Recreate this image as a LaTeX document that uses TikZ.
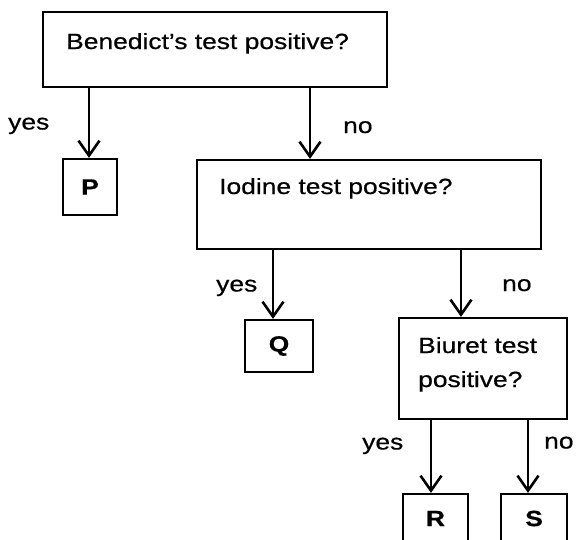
\documentclass[tikz,border=0pt]{standalone}
\usepackage{fontspec}
\setmainfont{Liberation Sans}[FakeStretch=1.2, FakeBold=0.6]
\usetikzlibrary{arrows.meta}

\begin{document}
\begin{tikzpicture}[x=1pt, y=-1pt, >={Straight Barb[length=15pt,width=21pt]},
	box/.style={draw, line width=2.2pt, inner sep=0pt},
	letterbox/.style={box, font=\fontsize{22}{26}\selectfont\bfseries},
	lbl/.style={inner sep=0pt, anchor=base west, font=\fontsize{22}{26}\selectfont},
	arr/.style={->, line width=2.6pt}]
	\useasboundingbox (0,0) rectangle (576,539);
	% questions
	\node [box, minimum width=344pt, minimum height=75pt] (bened) at (215,49.5) {};
	\node [lbl] (benedtxt) at (66,49) {Benedict's test positive?};
	\node [box, minimum width=344pt, minimum height=89pt] (iodine) at (369,204.5) {};
	\node [lbl] (iodinetxt) at (219,194) {Iodine test positive?};
	\node [box, minimum width=168pt, minimum height=101pt] (biuret) at (483,368.5) {};
	\node [lbl] (biurettxt) at (418,353) {Biuret test};
	\node [lbl] (biurettxtb) at (418,387) {positive?};
	% answers
	\node [letterbox, minimum width=54pt, minimum height=56pt] (pbox) at (90,187) {P};
	\node [letterbox, minimum width=68pt, minimum height=52pt] (qbox) at (279,346) {Q};
	\node [letterbox, minimum width=65pt, minimum height=49pt] (rbox) at (435.5,518.5) {R};
	\node [letterbox, minimum width=66pt, minimum height=49pt] (sbox) at (534,518.5) {S};
	% branches
	\draw [arr] (89,0 |- bened.south) -- (89,0 |- pbox.north);
	\draw [arr] (310,0 |- bened.south) -- (310,0 |- iodine.north);
	\draw [arr] (273,0 |- iodine.south) -- (273,0 |- qbox.north);
	\draw [arr] (461,0 |- iodine.south) -- (461,0 |- biuret.north);
	\draw [arr] (431,0 |- biuret.south) -- (431,0 |- rbox.north);
	\draw [arr] (528,0 |- biuret.south) -- (528,0 |- sbox.north);
	\node [lbl] (yesp) at (8,129.5) {yes};
	\node [lbl] (noi) at (343,133) {no};
	\node [lbl] (yesq) at (216,291.5) {yes};
	\node [lbl] (nob) at (502,291) {no};
	\node [lbl] (yesr) at (362,449.5) {yes};
	\node [lbl] (nos) at (544,448.5) {no};
\end{tikzpicture}
\end{document}
